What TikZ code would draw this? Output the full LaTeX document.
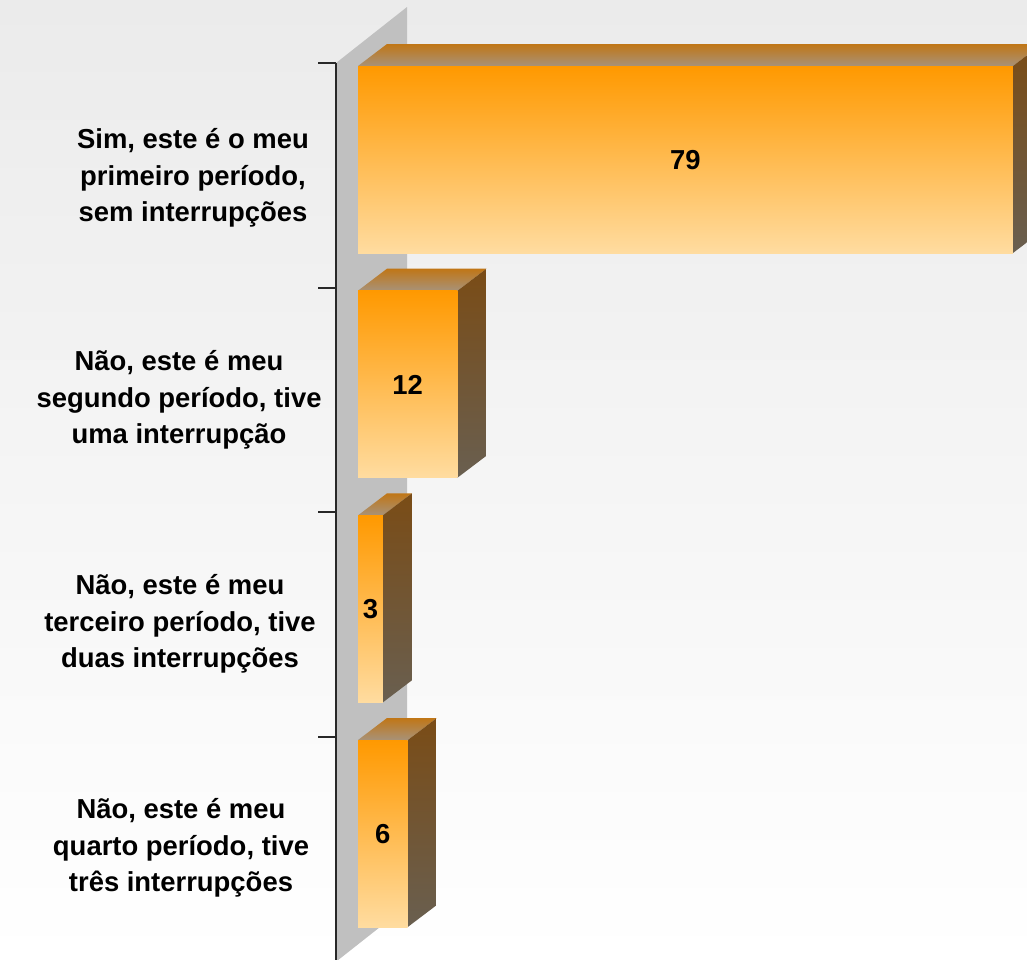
\documentclass[tikz,border=0pt]{standalone}
\usepackage{fontspec}
\setmainfont{Liberation Sans}

\definecolor{bgTop}{RGB}{235,235,235}
\definecolor{wallGray}{RGB}{192,192,192}
\definecolor{axisDark}{RGB}{40,40,40}
\definecolor{frontTop}{RGB}{255,153,0}
\definecolor{frontBot}{RGB}{255,220,160}
\definecolor{topBack}{RGB}{192,118,22}
\definecolor{topFront}{RGB}{168,146,120}
\definecolor{sideTop}{RGB}{122,76,22}
\definecolor{sideBot}{RGB}{105,95,80}

\tikzset{
    lbl/.style={font=\bfseries\fontsize{7.8}{10.4}\selectfont, align=center, inner sep=0pt},
    val/.style={font=\bfseries\fontsize{7.8}{10.4}\selectfont, inner sep=0pt}
}

\begin{document}
\begin{tikzpicture}[x=0.01cm,y=-0.01cm]
    % Background
    \useasboundingbox (0,0) rectangle (1027,959);
    \clip (0,0) rectangle (1027,959);
    \shade[top color=bgTop, bottom color=white] (0,0) rectangle (1027,959);

    % Side wall
    \fill[wallGray] (336,63) -- (407,7) -- (407,905.7) -- (336,961.7) -- cycle;

    % Axis and ticks
    \draw[axisDark, line width=0.6pt] (336,63) -- (336,961.7);
    \foreach \k in {0,...,3}
        \draw[axisDark, line width=0.6pt] (318,63+224.67*\k) -- (336,63+224.67*\k);

    % Bars
    \foreach \v [count=\i] in {79,12,3,6} {
        \pgfmathsetmacro{\wbar}{8.29*\v}
        \pgfmathsetmacro{\ytop}{66+224.67*(\i-1)}
        \pgfmathsetmacro{\ybot}{\ytop+187}
        \shade[top color=topBack, bottom color=topFront]
            (358,\ytop) -- (358+\wbar,\ytop) -- (387+\wbar,\ytop-22) -- (387,\ytop-22) -- cycle;
        \shade[top color=sideTop, bottom color=sideBot]
            (358+\wbar,\ytop) -- (387+\wbar,\ytop-22) -- (387+\wbar,\ybot-22) -- (358+\wbar,\ybot) -- cycle;
        \shade[top color=frontTop, bottom color=frontBot]
            (358,\ytop) rectangle (358+\wbar,\ybot);
        \node[val] (val\i) at (358+\wbar/2,\ytop+94) {\v};
    }

    % Category labels
    \node[lbl] (cat1) at (193,178) {Sim, este é o meu\\primeiro período,\\sem interrupções};
    \node[lbl] (cat2) at (179,400) {Não, este é meu\\segundo período, tive\\uma interrupção};
    \node[lbl] (cat3) at (180,624) {Não, este é meu\\terceiro período, tive\\duas interrupções};
    \node[lbl] (cat4) at (181,848) {Não, este é meu\\quarto período, tive\\três interrupções};
\end{tikzpicture}
\end{document}
